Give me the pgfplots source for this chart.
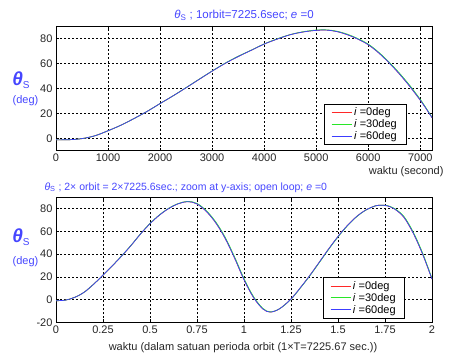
\documentclass[border=0pt]{standalone}
\usepackage{pgfplots}
\pgfplotsset{compat=1.18}
\usepackage{pgfplotstable}
\usepackage{fontspec}
\setmainfont{Liberation Sans}

\definecolor{labelblue}{RGB}{70,70,255}
\definecolor{lred}{RGB}{255,40,40}
\definecolor{lgreen}{RGB}{40,230,40}
\definecolor{lblue}{RGB}{60,60,255}

% theta_s over one orbit (time in seconds)
\pgfplotstableread{
t      v0     v30    v60
0      -1.3   -1.3   -1.3
250    -1.2   -1.2   -1.2
500    -0.3   -0.3   -0.3
750    2.0    2.0    2.0
1000   6.0    6.0    6.0
1250   10.5   10.5   10.5
1500   15.8   15.8   15.8
1750   21.5   21.5   21.5
2000   27.8   27.8   27.8
2250   34.0   34.0   34.0
2500   40.5   40.6   40.5
2750   47.2   47.3   47.2
3000   53.8   53.9   53.8
3250   60.0   60.2   60.0
3500   65.5   65.7   65.5
3750   70.5   70.6   70.5
4000   75.5   75.6   75.5
4250   79.5   79.7   79.5
4500   83.0   83.1   83.0
4750   85.2   85.4   85.2
5000   86.5   86.8   86.5
5200   86.7   86.9   86.7
5400   85.5   85.8   85.5
5600   83.0   83.4   83.0
5800   79.5   79.9   79.5
6000   75.0   75.5   75.0
6200   68.5   69.0   68.5
6400   60.5   61.1   60.5
6600   51.5   52.2   51.5
6800   41.5   42.3   41.5
7000   30.5   31.2   30.5
7100   24.5   25.0   24.5
7225.6 16.5   16.8   16.5
}\orbitone

% theta_s over two orbits (time in orbit periods)
\pgfplotstableread{
t     v0     v30    v60
0     -1.0   -1.0   -1.0
0.05  -0.5   -0.5   -0.5
0.10  2.0    2.0    2.0
0.15  6.5    6.5    6.5
0.20  13.5   13.5   13.5
0.25  21.5   21.5   21.5
0.30  29.8   29.8   29.8
0.35  38.5   38.6   38.5
0.40  47.8   47.9   47.8
0.45  57.8   57.9   57.8
0.50  66.8   67.0   66.8
0.55  74.3   74.5   74.3
0.60  80.2   80.4   80.2
0.65  84.3   84.5   84.3
0.70  86.2   86.4   86.2
0.75  84.2   84.6   84.2
0.80  77.5   78.2   77.5
0.85  67.5   68.3   67.5
0.90  53.8   54.8   53.8
0.95  36.5   37.5   36.5
1.00  17.5   18.5   17.5
1.05  2.0    2.8    2.0
1.10  -8.2   -7.7   -8.2
1.14  -11.0  -10.8  -11.0
1.19  -8.0   -8.0   -8.0
1.25  0.5    0.3    0.5
1.30  10.5   10.2   10.5
1.35  21.2   20.9   21.2
1.40  32.8   32.4   32.8
1.45  44.5   44.1   44.5
1.50  55.5   55.1   55.5
1.55  65.2   64.9   65.2
1.60  73.2   73.0   73.2
1.65  79.0   78.9   79.0
1.70  82.5   82.5   82.5
1.73  83.0   83.0   83.0
1.76  82.6   82.8   82.6
1.80  79.8   80.2   79.8
1.85  72.5   73.3   72.5
1.90  58.5   59.5   58.5
1.95  40.0   41.0   40.0
2.00  18.0   18.6   18.0
}\orbittwo

\pgfplotsset{
  matstyle/.style={
    scale only axis,
    width=376pt,
    anchor=south west,
    axis line style={black, line width=0.5pt},
    tick align=inside,
    major tick length=3pt,
    tick style={black, line width=0.4pt},
    grid=major,
    grid style={black, line width=0.45pt, dash pattern=on 2pt off 2pt},
    ticklabel style={font=\fontsize{11}{13}\selectfont, text=black!85},
    /pgf/number format/assume math mode=true,
    /pgf/number format/1000 sep={},
    scaled ticks=false,
    legend cell align=left,
    legend style={draw=black, line width=0.5pt, fill=white,
      font=\fontsize{11}{13}\selectfont, inner xsep=7pt, inner ysep=1.5pt,
      row sep=-1.5pt, anchor=south east,
      /tikz/every even column/.append style={column sep=5pt}},
    legend image code/.code={\draw[##1] (0pt,0pt) -- (20pt,0pt);},
    every axis plot/.append style={line width=0.7pt, smooth, tension=0.55, no marks},
  }
}

\begin{document}
\begin{tikzpicture}[x=1pt, y=1pt]
\useasboundingbox (0,0) rectangle (449,358);

% upper panel: one orbit
\begin{axis}[matstyle,
  at={(56pt,207.3pt)}, height=124.7pt,
  xmin=0, xmax=7225.6, ymin=-10, ymax=90,
  xtick={0,1000,2000,3000,4000,5000,6000,7000},
  ytick={0,20,40,60,80},
  legend style={at={(0.931,0.046)}},
]
\addplot[lred] table[x=t, y=v0] {\orbitone};
\addplot[lgreen] table[x=t, y=v30] {\orbitone};
\addplot[lblue] table[x=t, y=v60] {\orbitone};
\legend{\textit{i} =0deg, \textit{i} =30deg, \textit{i} =60deg}
\end{axis}

% lower panel: two orbits
\begin{axis}[matstyle,
  at={(56pt,35.7pt)}, height=125pt,
  xmin=0, xmax=2, ymin=-20, ymax=90,
  xtick={0,0.25,0.5,0.75,1,1.25,1.5,1.75,2},
  xticklabels={0,0.25,0.5,0.75,1,1.25,1.5,1.75,2},
  ytick={-20,0,20,40,60,80},
  legend style={at={(0.928,0.032)}},
]
\addplot[lred] table[x=t, y=v0] {\orbittwo};
\addplot[lgreen] table[x=t, y=v30] {\orbittwo};
\addplot[lblue] table[x=t, y=v60] {\orbittwo};
\legend{\textit{i} =0deg, \textit{i} =30deg, \textit{i} =60deg}
\end{axis}

% titles
\node[text=labelblue, font=\fontsize{11.5}{13}\selectfont] at (244,343)
  {\textit{θ}\textsubscript{S} ; 1orbit=7225.6sec; \textit{e} =0};
\node[text=labelblue, font=\fontsize{10.5}{12}\selectfont, anchor=west] at (41,170.7)
  {\textit{θ}\textsubscript{S} ; 2× orbit = 2×7225.6sec.; zoom at y-axis; open loop; \textit{e} =0};

% axis labels
\node[text=black!85, font=\fontsize{11}{13}\selectfont, anchor=east] at (447,186) {waktu (second)};
\node[text=black!85, font=\fontsize{11}{13}\selectfont] at (243,10)
  {waktu (dalam satuan perioda orbit (1×T=7225.67 sec.))};

\node[text=labelblue, inner sep=0pt] at (21,278)
  {{\fontsize{19}{19}\selectfont\bfseries\itshape θ}{\fontsize{10}{10}\selectfont\raisebox{-3pt}{S}}};
\node[text=labelblue, font=\fontsize{11}{13}\selectfont] at (25.5,257) {(deg)};
\node[text=labelblue, inner sep=0pt] at (21,121)
  {{\fontsize{19}{19}\selectfont\bfseries\itshape θ}{\fontsize{10}{10}\selectfont\raisebox{-3pt}{S}}};
\node[text=labelblue, font=\fontsize{11}{13}\selectfont] at (25.5,96) {(deg)};
\end{tikzpicture}
\end{document}
